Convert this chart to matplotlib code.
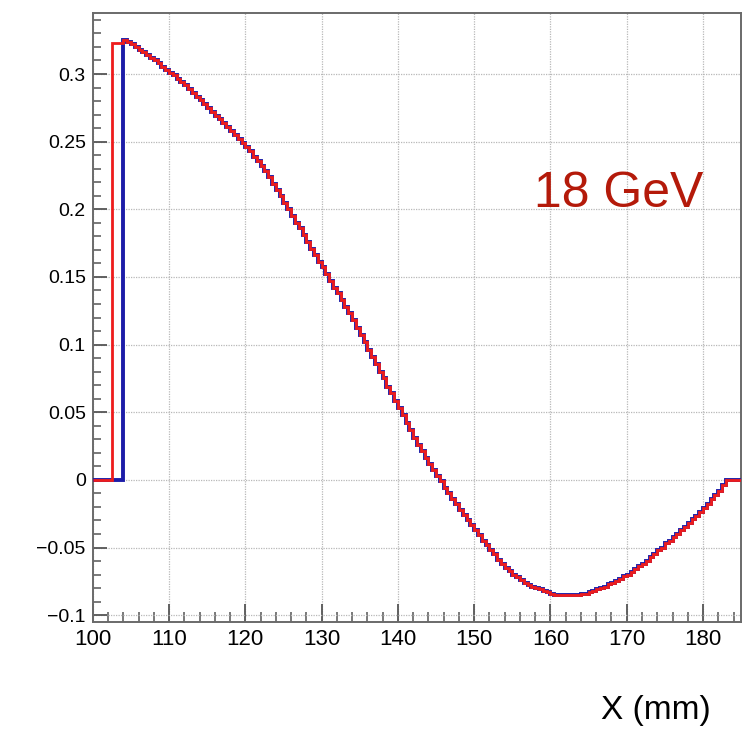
import numpy as np
import matplotlib
matplotlib.use("Agg")
import matplotlib.pyplot as plt
from matplotlib.ticker import MultipleLocator, FuncFormatter

# histogram binning (mm)
x_lo, x_hi, bin_w = 100.0, 185.0, 0.5

# common shape, bins starting at 104.0 mm, 0.5 mm wide, ending at 183.0 mm
shape = [
    0.325, 0.324, 0.322, 0.320, 0.318, 0.316, 0.314, 0.312, 0.310, 0.308,
    0.305, 0.303, 0.301, 0.299, 0.296, 0.294, 0.292, 0.289, 0.286, 0.283,
    0.281, 0.278, 0.275, 0.272, 0.269, 0.267, 0.264, 0.261, 0.258, 0.255,
    0.252, 0.249, 0.246, 0.243, 0.239, 0.236, 0.232, 0.228, 0.224, 0.219,
    0.214, 0.210, 0.205, 0.200, 0.195, 0.190, 0.186, 0.181, 0.176, 0.171,
    0.166, 0.161, 0.157, 0.152, 0.147, 0.142, 0.138, 0.133, 0.128, 0.123,
    0.118, 0.112, 0.107, 0.102, 0.096, 0.091, 0.086, 0.080, 0.075, 0.069,
    0.064, 0.058, 0.053, 0.048, 0.042, 0.037, 0.031, 0.026, 0.021, 0.016,
    0.012, 0.007, 0.003, -0.001, -0.006, -0.010, -0.014, -0.018, -0.022, -0.026,
    -0.030, -0.033, -0.037, -0.041, -0.045, -0.048, -0.052, -0.055, -0.059, -0.062,
    -0.065, -0.067, -0.070, -0.072, -0.074, -0.076, -0.078, -0.079, -0.080, -0.081,
    -0.082, -0.083, -0.084, -0.085, -0.085, -0.085, -0.085, -0.085, -0.085, -0.085,
    -0.084, -0.084, -0.083, -0.082, -0.081, -0.080, -0.079, -0.077, -0.076, -0.075,
    -0.073, -0.071, -0.070, -0.068, -0.066, -0.064, -0.062, -0.060, -0.057, -0.055,
    -0.052, -0.050, -0.047, -0.045, -0.042, -0.040, -0.037, -0.035, -0.032, -0.029,
    -0.027, -0.024, -0.021, -0.018, -0.014, -0.011, -0.008, -0.004,
]
red_lead = [0.323, 0.323, 0.323]   # red starts at 102.5 mm
red_start = 102.5
blue_start = 104.0

edges = np.arange(x_lo, x_hi + bin_w / 2, bin_w)
nbins = len(edges) - 1


def fill_hist(start, vals):
    h = np.zeros(nbins)
    i0 = int(round((start - x_lo) / bin_w))
    h[i0:i0 + len(vals)] = vals
    return h


h_red = fill_hist(red_start, red_lead + shape)
h_blue = fill_hist(blue_start, shape)

plt.rcParams['font.family'] = ['Liberation Sans', 'DejaVu Sans']
fig = plt.figure(figsize=(7.54, 7.30), dpi=100)
ax = fig.add_axes([0.123, 0.148, 0.86, 0.834])

ax.stairs(h_blue, edges, color='#1c1ca8', lw=2.8, baseline=None, zorder=3)
ax.stairs(h_red, edges, color='#ee1c1c', lw=2.0, baseline=None, zorder=4)

ax.set_xlim(x_lo, x_hi)
ax.set_ylim(-0.105, 0.345)

ax.xaxis.set_major_locator(MultipleLocator(10))
ax.xaxis.set_minor_locator(MultipleLocator(2))
ax.yaxis.set_major_locator(MultipleLocator(0.05))
ax.yaxis.set_minor_locator(MultipleLocator(0.01))
ax.yaxis.set_major_formatter(FuncFormatter(lambda v, p: ('%g' % round(v, 3)).replace('-', '\u2212')))

ax.grid(True, which='major', color='#b8b8b8', lw=0.9, linestyle=(0, (1, 1)))
ax.set_axisbelow(True)

ax.tick_params(which='both', direction='in', top=False, right=False, color='#555555')
ax.tick_params(which='major', width=1.3, labelsize=14)
ax.tick_params(which='minor', width=1.1)
ax.tick_params(axis='x', which='major', length=13, pad=5, labelsize=16)
ax.tick_params(axis='x', which='minor', length=7)
ax.tick_params(axis='y', which='major', length=10, pad=5)
ax.tick_params(axis='y', which='minor', length=6)

for sp in ax.spines.values():
    sp.set_color('#6a6a6a')
    sp.set_linewidth(1.4)

fig.text(619 / 754, 1 - 194 / 730, '18 GeV', color='#b41a0a', fontsize=36,
         ha='center', va='center')
fig.text(656 / 754, 1 - 711 / 730, 'X (mm)', fontsize=24, ha='center', va='center')

fig.savefig('out.png', dpi=100)
